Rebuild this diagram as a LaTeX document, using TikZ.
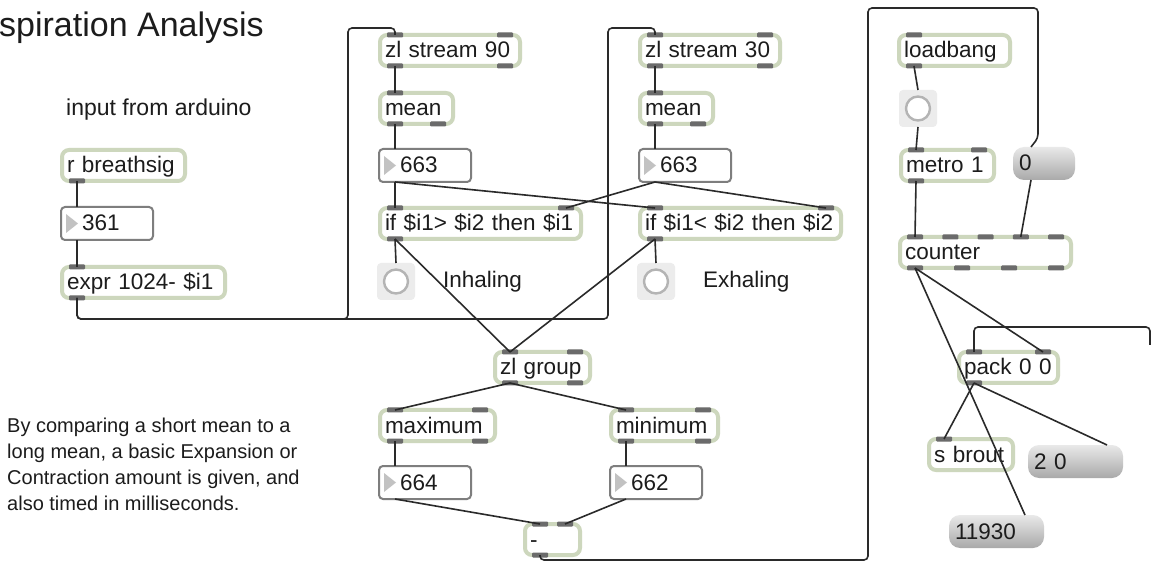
\documentclass[tikz,border=0pt]{standalone}
\usepackage{fontspec}
\setmainfont{Liberation Sans}
\usetikzlibrary{positioning,calc}
\definecolor{objgreen}{HTML}{CDD7BD}
\definecolor{tabgray}{HTML}{6B6B6B}
\definecolor{numgray}{HTML}{7E7E7E}
\definecolor{trigray}{HTML}{C2C2C2}
\definecolor{msgtop}{HTML}{E9E9E9}
\definecolor{msgbot}{HTML}{A9A9A9}
\definecolor{btnbg}{HTML}{ECECEC}
\definecolor{btnring}{HTML}{B4B4B4}
\definecolor{cordcol}{HTML}{2A2A2A}
\definecolor{inkcol}{HTML}{1C1C1C}
\tikzset{%
  obj/.style={
    draw=objgreen,
    line width=4pt,
    fill=white,
    rounded corners=7pt,
    anchor=north west,
    outer sep=0pt,
    inner xsep=5pt,
    inner ysep=0pt,
    minimum height=31pt,
    align=left,
    text height=17.5pt,
    text depth=2.5pt,
    text=inkcol,
    font=\fontsize{22.5}{27}\selectfont,
    execute at begin node=\hbox\bgroup,
    execute at end node=\egroup
  },
  num/.style={
    draw=numgray,
    line width=2pt,
    fill=white,
    rounded corners=4pt,
    anchor=north west,
    outer sep=0pt,
    inner xsep=4pt,
    inner ysep=0pt,
    minimum height=33pt,
    text width=84pt,
    align=left,
    text height=17.5pt,
    text depth=2.5pt,
    text=inkcol,
    font=\fontsize{22.5}{27}\selectfont,
    execute at begin node=\hbox\bgroup\hskip17pt,
    execute at end node=\egroup,
    path picture={\fill[trigray,sharp corners] ([xshift=5pt,yshift=9.5pt]path picture bounding box.west)
      -- ++(12pt,-9.5pt) -- ++(-12pt,-9.5pt) -- cycle;}
  },
  msg/.style={
    draw=none,
    top color=msgtop,
    bottom color=msgbot,
    rounded corners=11pt,
    anchor=north west,
    outer sep=0pt,
    inner xsep=6pt,
    inner ysep=0pt,
    minimum height=33pt,
    align=left,
    text height=17.5pt,
    text depth=2.5pt,
    text=inkcol,
    font=\fontsize{22.5}{27}\selectfont,
    execute at begin node=\hbox\bgroup,
    execute at end node=\egroup
  },
  btn/.style={
    fill=btnbg,
    rounded corners=4pt,
    anchor=north west,
    outer sep=0pt,
    inner sep=0pt,
    minimum width=38pt,
    minimum height=37pt,
    path picture={\draw[btnring,line width=2.4pt,fill=white]
      (path picture bounding box.center) circle (12pt);}
  },
  remark/.style={
    inner sep=0pt,
    text=inkcol,
    font=\fontsize{22.5}{27}\selectfont
  },
  tab/.style={fill=tabgray,rounded corners=1pt},
}

\begin{document}
\begin{tikzpicture}[x=1pt,y=-1pt]
  \tikzstyle{cord}=[draw=cordcol,line width=1.6pt,rounded corners=4pt]

  \fill[white] (0,0) rectangle (1152,561);
  \useasboundingbox (0,0) rectangle (1152,561);

  % comments
  \node[remark,anchor=base west,font=\fontsize{34}{40}\selectfont] (title) at (-1,37) {spiration Analysis};
  \node[remark,anchor=base west,font=\fontsize{23}{27}\selectfont] (arduino) at (66,116) {input from arduino};
  \node[remark,anchor=north west,align=left,font=\fontsize{20}{26}\selectfont] (about) at (7,418)
    {By comparing a short mean to a\\long mean, a basic Expansion or\\Contraction amount is given, and\\also timed in milliseconds.};

  % input
  \node[obj,text width=113pt] (rbreath) at (62,150) {r breathsig};
  \node[num] (n361) at (61,207) {361};
  \node[obj,text width=153pt] (expr) at (62,267) {expr 1024- \$i1};

  % long mean
  \node[obj,text width=130pt] (zls90) at (380,35) {zl stream 90};
  \node[obj,text width=63pt] (mean1) at (380,93) {mean};
  \node[num] (n663a) at (379,149) {663};
  \node[obj,text width=191pt] (ifgt) at (380,208) {if \$i1> \$i2 then \$i1};
  \node[btn] (btn1) at (377,263) {};
  \node[remark,right=28pt of btn1] (inhale) {Inhaling};

  % short mean
  \node[obj,text width=130pt] (zls30) at (640,35) {zl stream 30};
  \node[obj,text width=63pt] (mean2) at (640,93) {mean};
  \node[num] (n663b) at (639,149) {663};
  \node[obj,text width=191pt] (iflt) at (640,208) {if \$i1< \$i2 then \$i2};
  \node[btn] (btn2) at (637,263) {};
  \node[remark,right=28pt of btn2] (exhale) {Exhaling};

  % range
  \node[obj,text width=85pt] (zlgroup) at (495,352) {zl group};
  \node[obj,text width=105pt] (maxi) at (380,410) {maximum};
  \node[obj,text width=97pt] (mini) at (611,410) {minimum};
  \node[num] (n664) at (379,466) {664};
  \node[num] (n662) at (610,466) {662};
  \node[obj,text width=45pt] (minus) at (525,524) {-};

  % timer
  \node[obj,text width=101pt] (loadbang) at (899,35) {loadbang};
  \node[btn] (btn3) at (899,90) {};
  \node[obj,text width=83pt] (metro) at (901,150) {metro 1};
  \node[msg,text width=50pt] (m0) at (1013,147) {0};
  \node[obj,text width=161pt] (counter) at (900,237) {counter};
  \node[obj,text width=89pt] (pack) at (959,352) {pack 0 0};
  \node[obj,text width=74pt] (sbrout) at (929,439) {s brout};
  \node[msg,text width=83pt] (m20) at (1028,445) {2 0};
  \node[msg,text width=83pt] (m11930) at (949,515) {11930};

  % inlets and outlets
  \foreach \o in {expr,zls90,mean1,ifgt,zls30,mean2,iflt,zlgroup,maxi,mini,minus,loadbang,metro,pack,sbrout}
    \fill[tab] ([shift={(7pt,-2.5pt)}]\o.north west) rectangle +(16pt,5pt);
  \foreach \o in {zls90,zls30,ifgt,iflt,zlgroup,maxi,mini,minus,metro,pack}
    \fill[tab] ([shift={(-23pt,-2.5pt)}]\o.north east) rectangle +(16pt,5pt);
  \foreach \o in {rbreath,expr,zls90,mean1,ifgt,zls30,mean2,iflt,zlgroup,maxi,mini,minus,loadbang,metro,pack}
    \fill[tab] ([shift={(7pt,-2.5pt)}]\o.south west) rectangle +(16pt,5pt);
  \foreach \o in {zls90,zls30,mean1,mean2,zlgroup,maxi,mini}
    \fill[tab] ([shift={(-23pt,-2.5pt)}]\o.south east) rectangle +(16pt,5pt);
  \foreach \dx in {15,50.25,85.5,120.75,156}
    \fill[tab] ([shift={(\dx pt-8pt,-2.5pt)}]counter.north west) rectangle +(16pt,5pt);
  \foreach \dx in {15,62,109,156}
    \fill[tab] ([shift={(\dx pt-8pt,-2.5pt)}]counter.south west) rectangle +(16pt,5pt);

  % routing points
  \coordinate (busL) at (348,319);
  \coordinate (busR) at (608,319);
  \coordinate (loopB) at (868,560);
  \coordinate (loopT) at (1038,8);
  \coordinate (loopD) at (1038,138);
  \coordinate (packR) at (1150,327);
  \coordinate (offR) at (1150,345);

  % patch cords
  \draw[cord] ([xshift=15pt]rbreath.south west) -- ([xshift=16pt]n361.north west);
  \draw[cord] ([xshift=16pt]n361.south west) -- ([xshift=15pt]expr.north west);
  \draw[cord] ([xshift=15pt]expr.south west) |- (busL) |- ([xshift=15pt,yshift=7pt]zls90.north west) -- ([xshift=15pt]zls90.north west);
  \draw[cord] ([xshift=15pt]expr.south west) |- (busR) |- ([xshift=15pt,yshift=7pt]zls30.north west) -- ([xshift=15pt]zls30.north west);

  \draw[cord] ([xshift=15pt]zls90.south west) -- ([xshift=15pt]mean1.north west);
  \draw[cord] ([xshift=15pt]mean1.south west) -- ([xshift=16pt]n663a.north west);
  \draw[cord] ([xshift=15pt]zls30.south west) -- ([xshift=15pt]mean2.north west);
  \draw[cord] ([xshift=15pt]mean2.south west) -- ([xshift=16pt]n663b.north west);
  \draw[cord] ([xshift=16pt]n663a.south west) -- ([xshift=15pt]ifgt.north west);
  \draw[cord] ([xshift=16pt]n663a.south west) -- ([xshift=15pt]iflt.north west);
  \draw[cord] ([xshift=16pt]n663b.south west) -- ([xshift=-15pt]ifgt.north east);
  \draw[cord] ([xshift=16pt]n663b.south west) -- ([xshift=-15pt]iflt.north east);
  \draw[cord] ([xshift=15pt]ifgt.south west) -- (btn1.north);
  \draw[cord] ([xshift=15pt]iflt.south west) -- (btn2.north);
  \draw[cord] ([xshift=15pt]ifgt.south west) -- ([xshift=15pt]zlgroup.north west);
  \draw[cord] ([xshift=15pt]iflt.south west) -- ([xshift=15pt]zlgroup.north west);

  \draw[cord] ([xshift=15pt]zlgroup.south west) -- ([xshift=15pt]maxi.north west);
  \draw[cord] ([xshift=15pt]zlgroup.south west) -- ([xshift=15pt]mini.north west);
  \draw[cord] ([xshift=15pt]maxi.south west) -- ([xshift=16pt]n664.north west);
  \draw[cord] ([xshift=15pt]mini.south west) -- ([xshift=16pt]n662.north west);
  \draw[cord] ([xshift=16pt]n664.south west) -- ([xshift=15pt]minus.north west);
  \draw[cord] ([xshift=16pt]n662.south west) -- ([xshift=-15pt]minus.north east);
  \draw[cord] ([xshift=15pt]minus.south west) |- (loopB) |- (loopT) -- (loopD) -- ([xshift=18pt]m0.north west);

  \draw[cord] ([xshift=15pt]loadbang.south west) -- (btn3.north);
  \draw[cord] (btn3.south) -- ([xshift=15pt]metro.north west);
  \draw[cord] ([xshift=15pt]metro.south west) -- ([xshift=15pt]counter.north west);
  \draw[cord] ([xshift=18pt]m0.south west) -- ([xshift=120.75pt]counter.north west);
  \draw[cord] ([xshift=15pt]counter.south west) -- ([xshift=-15pt]pack.north east);
  \draw[cord] ([xshift=15pt]counter.south west) -- ([xshift=-19pt]m11930.north east);
  \draw[cord] ([xshift=15pt]pack.south west) -- ([xshift=15pt]sbrout.north west);
  \draw[cord] ([xshift=15pt]pack.south west) -- ([xshift=-16pt]m20.north east);
  \draw[cord] ([xshift=15pt]pack.north west) |- (packR) -- (offR);
\end{tikzpicture}
\end{document}
